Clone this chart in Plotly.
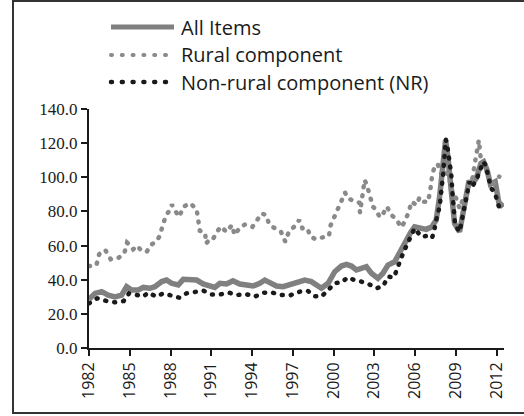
import plotly.graph_objects as go

# ---- data ----
all_x = [1982.0, 1982.44, 1982.93, 1983.42, 1983.91, 1984.4, 1984.77, 1985.14, 1985.63, 1986.0,
         1986.49, 1986.85, 1987.35, 1987.71, 1988.08, 1988.57, 1988.94, 1989.5, 1989.92, 1990.4,
         1990.9, 1991.26, 1991.63, 1992.12, 1992.6, 1993.1, 1993.6, 1994.08, 1994.57, 1994.94,
         1995.31, 1995.8, 1996.29, 1996.78, 1997.2, 1997.88, 1998.37, 1998.74, 1999.11, 1999.6,
         2000.09, 2000.58, 2000.95, 2001.32, 2001.68, 2002.05, 2002.42, 2002.79, 2003.27, 2003.64,
         2004.01, 2004.5, 2004.8, 2005.1, 2005.4, 2005.7, 2005.97, 2006.46, 2006.83, 2007.24,
         2007.56, 2007.81, 2008.05, 2008.25, 2008.42, 2008.6, 2008.75, 2008.91, 2009.28, 2009.5,
         2009.75, 2009.95, 2010.3, 2010.51, 2010.85, 2011.05, 2011.3, 2011.55, 2011.9, 2012.22, 2012.51]
all_y = [28.5, 32, 33, 31, 30, 31, 35.9, 34, 34, 35.5,
         35, 35.9, 38.9, 39.8, 37.9, 36.9, 40.2, 40.2, 39.8, 37.5,
         35.9, 35.5, 37.9, 37.5, 39.4, 37.5, 36.9, 36.3, 37.9, 39.8,
         38.3, 36.3, 35.9, 36.9, 38.5, 39.8, 38.9, 36.9, 35, 37.9,
         44.7, 48, 49, 48, 45.7, 46.7, 47.6, 43.8, 40.8, 43.8,
         48.6, 50.5, 55, 60, 65, 68, 71, 70, 69.5, 71,
         75, 88.6, 106, 121.8, 112, 96, 82, 73, 68.1, 77,
         88, 97, 97.4, 99.4, 108.2, 109.1, 104.3, 96, 97.4, 82.8, 84.8]

rural_x = [1982.0, 1982.55, 1982.75, 1983.2, 1983.6, 1984.15, 1984.6, 1984.8, 1985.0, 1985.25,
           1985.55, 1985.85, 1986.25, 1986.55, 1987.0, 1987.2, 1987.4, 1987.65, 1987.85, 1988.1,
           1988.3, 1988.65, 1988.95, 1989.45, 1989.92, 1990.0, 1990.16, 1990.55, 1990.62, 1990.88,
           1991.12, 1991.42, 1991.7, 1992.12, 1992.52, 1992.72, 1993.1, 1993.5, 1994.03, 1994.33,
           1994.68, 1995.01, 1995.28, 1995.68, 1996.13, 1996.45, 1996.72, 1997.17, 1997.47, 1997.71,
           1998.08, 1998.3, 1998.69, 1999.1, 1999.35, 1999.67, 1999.77, 1999.96, 2000.21, 2000.41,
           2000.63, 2000.85, 2001.07, 2001.26, 2001.56, 2001.9, 2001.95, 2002.12, 2002.29, 2002.46,
           2002.71, 2002.9, 2003.15, 2003.4, 2003.6, 2003.93, 2004.26, 2004.62, 2004.99, 2005.24,
           2005.55, 2005.73, 2006.1, 2006.34, 2006.63, 2006.95, 2007.12, 2007.27, 2007.5, 2007.69,
           2007.95, 2008.2, 2008.5, 2008.8, 2009.03, 2009.28, 2009.52, 2009.77, 2010.0, 2010.25,
           2010.38, 2010.52, 2010.7, 2010.85, 2011.1, 2011.4, 2011.65, 2011.85, 2012.2]
rural_y = [48, 48.6, 55, 57.4, 52, 52.7, 55.5, 61.7, 60.3, 57.8,
           59.9, 57, 56.4, 60.3, 62.9, 65.6, 71.1, 77.3, 79.7, 84,
           80.8, 76.9, 82.8, 84.8, 81.3, 75, 68.7, 67.3, 61.2, 63.7,
           63.7, 68, 71.1, 68, 72, 66.2, 70.5, 72.4, 71, 74.3,
           78.7, 78.1, 72.3, 70.1, 68.1, 62.3, 68.3, 71.5, 75, 70.1,
           70.1, 65.2, 63.7, 64.6, 65.2, 65.6, 71.5, 75, 80.8, 83.6,
           87.1, 91, 87.5, 87.1, 86.1, 85.1, 79.3, 91.6, 98.4, 95.3,
           89, 82.8, 80.8, 76.6, 77.9, 82.8, 77.9, 75.4, 70.7, 74,
           79.9, 85.7, 83.8, 88.3, 85.7, 85.5, 92.2, 101.7, 107.6, 107.2,
           101.7, 104, 100, 90, 87.7, 81.8, 87.1, 88.6, 96, 100,
           107.2, 115, 121.8, 110, 108, 100, 95, 97.4, 100.4]

nr_x = [1982.0, 1982.6, 1983.3, 1983.9, 1984.55, 1984.95, 1985.55, 1986.0, 1986.35, 1986.97,
        1987.46, 1988.08, 1988.64, 1989.18, 1989.87, 1990.41, 1991.02, 1991.68, 1992.32, 1992.86,
        1993.54, 1994.21, 1994.87, 1995.43, 1996.17, 1996.85, 1997.52, 1998.1, 1998.62, 1999.11,
        1999.63, 2000.12, 2000.55, 2001.07, 2001.53, 2002.05, 2002.68, 2003.17, 2003.66, 2004.01,
        2004.45, 2004.74, 2004.97, 2005.25, 2005.65, 2005.97, 2006.46, 2006.83, 2007.24, 2007.4,
        2007.56, 2007.81, 2008.05, 2008.18, 2008.27, 2008.42, 2008.54, 2008.67, 2008.74, 2008.84,
        2008.95, 2009.28, 2009.52, 2009.72, 2009.89, 2010.01, 2010.2, 2010.51, 2010.75, 2011.0,
        2011.2, 2011.35, 2011.6, 2011.85, 2012.0, 2012.22, 2012.51]
nr_y = [26.2, 29.1, 27.5, 26.8, 27.5, 32, 31, 30.1, 32.4, 30.1,
        32, 30.7, 29.5, 32, 32.6, 33.6, 31.4, 31.4, 32.4, 31,
        31.6, 30.1, 32.4, 32.6, 31, 31, 33, 33.5, 30.3, 30.1,
        34.2, 38.1, 38.3, 41.4, 39.8, 38.9, 37.1, 35, 36.3, 41.8,
        41.4, 46.7, 52.5, 57.8, 64.3, 70.1, 65.2, 65.6, 64.3, 68.1,
        75, 82.8, 100.4, 113, 122.2, 116, 109.1, 101.4, 92.6, 78.9,
        72, 68.1, 76.9, 83.8, 90.6, 97.4, 94.5, 98.4, 103.3, 109.1,
        107.2, 101.4, 93.5, 91.6, 86.7, 81.8, 83.8]

series_names = ["All Items", "Rural component", "Non-rural component (NR)"]
x_ticks = [1982, 1985, 1988, 1991, 1994, 1997, 2000, 2003, 2006, 2009, 2012]
y_ticks = [0, 20, 40, 60, 80, 100, 120, 140]

# ---- figure ----
W, H = 524, 416
L, R, T, B = 89, 20, 109, 68
pw, ph = W - L - R, H - T - B


def px2paper_x(p):
    return (p - L) / pw


def px2paper_y(p):
    return (H - B - p) / ph


styles = [
    dict(color="#808080", width=5.5),
    dict(color="#8a8a8a", width=4.5, dash="1px,8px"),
    dict(color="#1a1a1a", width=4.5, dash="1px,8px"),
]
legend_styles = [
    dict(color="#808080", width=5),
    dict(color="#8a8a8a", width=4, dash="1px,9.8px"),
    dict(color="#1a1a1a", width=4.5, dash="1px,9.8px"),
]

fig = go.Figure()
for xs, ys, name, st in zip([all_x, rural_x, nr_x], [all_y, rural_y, nr_y], series_names, styles):
    fig.add_trace(go.Scatter(x=xs, y=ys, mode="lines", name=name, line=st, showlegend=False))

# custom legend (above the plot area)
legend_rows_px = [27, 55, 82]
for name, st, ry in zip(series_names, legend_styles, legend_rows_px):
    fig.add_shape(type="line", xref="paper", yref="paper",
                  x0=px2paper_x(111), x1=px2paper_x(174), y0=px2paper_y(ry), y1=px2paper_y(ry),
                  line=st)
    fig.add_annotation(xref="paper", yref="paper", x=px2paper_x(179), y=px2paper_y(ry),
                       xanchor="left", yanchor="middle", showarrow=False, text=name,
                       font=dict(family="Open Sans", size=20, color="#1a1a1a"))

# outer border
fig.add_shape(type="rect", xref="paper", yref="paper",
              x0=px2paper_x(13), x1=px2paper_x(540), y0=px2paper_y(413), y1=px2paper_y(1),
              line=dict(color="#333333", width=2), fillcolor="rgba(0,0,0,0)", layer="above")

fig.update_layout(
    width=W, height=H,
    margin=dict(l=L, r=R, t=T, b=B, pad=0),
    paper_bgcolor="white", plot_bgcolor="white",
    showlegend=False,
    xaxis=dict(range=[1982, 2012.55], tickmode="array", tickvals=x_ticks,
               ticktext=[str(v) for v in x_ticks], tickangle=-90, automargin=False,
               showgrid=False, zeroline=False, showline=True, linecolor="#1a1a1a", linewidth=2,
               ticks="outside", ticklen=6, tickwidth=2, tickcolor="#1a1a1a",
               tickfont=dict(family="Open Sans", size=16, color="#1a1a1a")),
    yaxis=dict(range=[0, 140], tickmode="array", tickvals=y_ticks,
               ticktext=[f"{v:.1f}" for v in y_ticks], automargin=False,
               showgrid=False, zeroline=False, showline=True, linecolor="#1a1a1a", linewidth=2,
               ticks="outside", ticklen=6, tickwidth=2, tickcolor="#1a1a1a",
               tickfont=dict(family="Liberation Serif", size=17, color="#1a1a1a")),
)

post = """
document.body.style.margin='0px';
document.body.style.overflow='hidden';
document.querySelectorAll('path').forEach(function(p){
  var d = p.style.strokeDasharray;
  if (d && d !== 'none' && d !== '') { p.style.strokeLinecap = 'round'; }
});
"""
fig.write_html("out.html", config={"displayModeBar": False}, post_script=post)
